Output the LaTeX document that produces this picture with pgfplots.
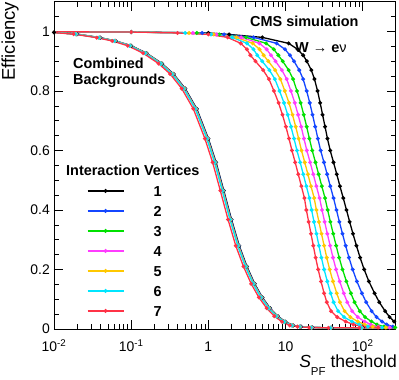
\documentclass[border=0pt]{standalone}
\usepackage{fontspec}
\setmainfont{Liberation Sans}
\usepackage{pgfplots}
\usepackage{pgfplotstable}
\pgfplotsset{compat=1.18}

\definecolor{c1}{RGB}{0,0,0}
\definecolor{c2}{RGB}{20,70,255}
\definecolor{c3}{RGB}{0,225,0}
\definecolor{c4}{RGB}{255,60,255}
\definecolor{c5}{RGB}{255,200,0}
\definecolor{c6}{RGB}{0,230,255}
\definecolor{c7}{RGB}{255,50,70}

% W -> e nu: log10(threshold) per number of vertices, at each efficiency level
\pgfplotstableread{
eff s1 s2 s3 s4 s5 s6 s7
0.999 -2.1 -2.1 -2.1 -2.1 -2.1 -2.1 -2.1
0.998 -1.0 -1.0 -1.0 -1.0 -1.0 -1.0 -1.0
0.995 0.0 -0.08 -0.15 -0.2 -0.25 -0.3 -0.4
0.99 0.27 0.203 0.143 0.105 0.068 0.035 0.0
0.98 0.70 0.588 0.489 0.426 0.363 0.309 0.25
0.96 1.04 0.885 0.749 0.662 0.575 0.501 0.42
0.94 1.157 0.993 0.848 0.756 0.664 0.585 0.50
0.92 1.228 1.057 0.907 0.811 0.716 0.634 0.545
0.90 1.276 1.110 0.963 0.870 0.777 0.697 0.61
0.87 1.334 1.178 1.041 0.953 0.866 0.791 0.71
0.84 1.375 1.228 1.098 1.015 0.933 0.862 0.785
0.80 1.415 1.274 1.149 1.070 0.991 0.923 0.85
0.76 1.449 1.314 1.196 1.120 1.045 0.980 0.91
0.72 1.480 1.350 1.236 1.163 1.090 1.028 0.96
0.68 1.512 1.385 1.274 1.203 1.132 1.071 1.005
0.64 1.543 1.419 1.309 1.239 1.170 1.110 1.045
0.60 1.579 1.455 1.346 1.276 1.207 1.148 1.083
0.56 1.622 1.498 1.388 1.319 1.249 1.190 1.125
0.52 1.664 1.539 1.429 1.360 1.290 1.230 1.165
0.48 1.705 1.580 1.470 1.400 1.330 1.270 1.205
0.44 1.748 1.622 1.512 1.441 1.371 1.310 1.245
0.40 1.790 1.660 1.546 1.473 1.400 1.338 1.270
0.36 1.831 1.698 1.581 1.507 1.433 1.369 1.300
0.32 1.874 1.738 1.618 1.542 1.466 1.401 1.330
0.28 1.919 1.779 1.656 1.578 1.500 1.433 1.360
0.24 1.966 1.822 1.695 1.615 1.534 1.465 1.390
0.20 2.019 1.870 1.739 1.655 1.572 1.500 1.423
0.16 2.080 1.925 1.789 1.702 1.615 1.541 1.460
0.12 2.154 1.990 1.847 1.755 1.664 1.585 1.500
0.09 2.215 2.045 1.895 1.800 1.705 1.623 1.535
0.06 2.291 2.116 1.962 1.863 1.765 1.681 1.590
0.04 2.349 2.179 2.030 1.935 1.840 1.758 1.670
0.025 2.408 2.251 2.113 2.025 1.937 1.862 1.780
0.015 2.455 2.311 2.185 2.104 2.024 1.955 1.880
0.008 2.520 2.390 2.276 2.203 2.130 2.068 2.000
0.005 2.600 2.500 2.420 2.350 2.300 2.250 2.200
0.004 2.750 2.700 2.650 2.600 2.550 2.500 2.500
}\sig

% combined backgrounds
\pgfplotstableread{
b1 b2 b3 b4 b5 b6 b7 eff
-2.0 -2.005 -2.010 -2.012 -2.015 -2.020 -2.045 0.997
-1.7 -1.705 -1.710 -1.712 -1.715 -1.720 -1.745 0.991
-1.4 -1.405 -1.410 -1.412 -1.415 -1.420 -1.445 0.979
-1.2 -1.205 -1.210 -1.212 -1.215 -1.220 -1.245 0.968
-1.0 -1.005 -1.010 -1.012 -1.015 -1.020 -1.045 0.952
-0.8 -0.805 -0.810 -0.812 -0.815 -0.820 -0.845 0.927
-0.6 -0.605 -0.610 -0.612 -0.615 -0.620 -0.645 0.892
-0.45 -0.455 -0.460 -0.462 -0.465 -0.470 -0.495 0.857
-0.3 -0.305 -0.310 -0.312 -0.315 -0.320 -0.345 0.808
-0.15 -0.155 -0.160 -0.162 -0.165 -0.170 -0.195 0.740
0.0 -0.005 -0.010 -0.012 -0.015 -0.020 -0.045 0.640
0.1 0.095 0.090 0.088 0.085 0.080 0.055 0.560
0.2 0.195 0.190 0.188 0.185 0.180 0.155 0.465
0.3 0.295 0.290 0.288 0.285 0.280 0.255 0.368
0.4 0.395 0.390 0.388 0.385 0.380 0.355 0.280
0.5 0.495 0.490 0.488 0.485 0.480 0.455 0.210
0.6 0.595 0.590 0.588 0.585 0.580 0.555 0.152
0.7 0.695 0.690 0.688 0.685 0.680 0.655 0.106
0.8 0.795 0.790 0.788 0.785 0.780 0.755 0.070
0.9 0.895 0.890 0.888 0.885 0.880 0.855 0.043
1.0 0.995 0.990 0.988 0.985 0.980 0.955 0.024
1.1 1.095 1.090 1.088 1.085 1.080 1.055 0.012
1.2 1.195 1.190 1.188 1.185 1.180 1.155 0.008
1.35 1.345 1.340 1.338 1.335 1.330 1.305 0.005
1.6 1.595 1.590 1.588 1.585 1.580 1.555 0.004
2.0 1.995 1.990 1.988 1.985 1.980 1.955 0.004
2.6 2.595 2.590 2.588 2.585 2.580 2.555 0.004
}\bkg

\pgfplotsset{
  curve/.style={#1, line width=1.3bp, mark=*, mark size=1.25bp, mark options={solid, fill=#1}},
}

\begin{document}
\begin{tikzpicture}
\begin{axis}[
  scale only axis, width=341.5bp, height=327.3bp,
  xmode=log, xmin=0.01, xmax=266, ymin=0, ymax=1.1,
  axis line style={line width=0.8bp},
  tick align=inside, xtick pos=both, ytick pos=both,
  major tick length=9bp, minor tick length=5bp,
  every tick/.style={black, line width=0.6bp},
  xtick={0.01,0.1,1,10,100},
  xticklabels={10\textsuperscript{-2},10\textsuperscript{-1},1,10,10\textsuperscript{2}},
  ytick={0,0.2,0.4,0.6,0.8,1},
  yticklabels={0,0.2,0.4,0.6,0.8,1},
  minor ytick={0.05,0.1,...,1.09},
  tick label style={font=\fontsize{14}{16}\selectfont},
  xticklabel style={anchor=base, inner sep=0pt, yshift=-22.7bp},
  yticklabel style={anchor=east, inner sep=0pt, xshift=-4bp},
  ylabel={Efficiency},
  ylabel style={at={(axis description cs:-0.1288,1)}, anchor=east, inner sep=0pt, font=\fontsize{18.5}{20}\selectfont},
  xlabel={\textit{S}\raisebox{-0.45em}{\fontsize{11.5}{12}\selectfont PF} theshold},
  xlabel style={at={(axis description cs:1,0)}, anchor=base east, inner sep=0pt, yshift=-38.5bp, xshift=1.5bp, font=\fontsize{17.6}{19}\selectfont},
  legend image code/.code={\draw[mark repeat=2,mark phase=2,#1] plot coordinates {(0bp,0bp) (18bp,0bp) (36bp,0bp)};},
  legend cell align=left,
  legend style={at={(0.0958,0.4384)}, anchor=north west, draw=none, fill=none, inner sep=0pt,
    row sep=9.6bp, nodes={inner sep=0pt, text height=10.4bp, text depth=0pt},
    font=\bfseries\fontsize{14.5}{16}\selectfont,
    /tikz/every odd column/.append style={column sep=29.5bp}},
]
\addplot[curve=c1] table[x expr={10^(\thisrow{s1})}, y=eff] {\sig};
\addlegendentry{1}
\addplot[curve=c2] table[x expr={10^(\thisrow{s2})}, y=eff] {\sig};
\addlegendentry{2}
\addplot[curve=c3] table[x expr={10^(\thisrow{s3})}, y=eff] {\sig};
\addlegendentry{3}
\addplot[curve=c4] table[x expr={10^(\thisrow{s4})}, y=eff] {\sig};
\addlegendentry{4}
\addplot[curve=c5] table[x expr={10^(\thisrow{s5})}, y=eff] {\sig};
\addlegendentry{5}
\addplot[curve=c6] table[x expr={10^(\thisrow{s6})}, y=eff] {\sig};
\addlegendentry{6}
\addplot[curve=c7] table[x expr={10^(\thisrow{s7})}, y=eff] {\sig};
\addlegendentry{7}

\addplot[curve=c1, forget plot] table[x expr={10^(\thisrow{b1})}, y=eff] {\bkg};
\addplot[curve=c2, forget plot] table[x expr={10^(\thisrow{b2})}, y=eff] {\bkg};
\addplot[curve=c3, forget plot] table[x expr={10^(\thisrow{b3})}, y=eff] {\bkg};
\addplot[curve=c4, forget plot] table[x expr={10^(\thisrow{b4})}, y=eff] {\bkg};
\addplot[curve=c5, forget plot] table[x expr={10^(\thisrow{b5})}, y=eff] {\bkg};
\addplot[curve=c6, forget plot] table[x expr={10^(\thisrow{b6})}, y=eff] {\bkg};
\addplot[curve=c7, forget plot] table[x expr={10^(\thisrow{b7})}, y=eff] {\bkg};

\node[anchor=base west, inner sep=0pt, font=\bfseries\fontsize{14.5}{16}\selectfont] at (rel axis cs:0.574,0.9257) {CMS simulation};
\node[anchor=base west, inner sep=0pt, font=\bfseries\fontsize{14.5}{16}\selectfont] at (rel axis cs:0.7057,0.8454) {W {\mdseries →} e{\mdseries ν}};
\node[anchor=base west, inner sep=0pt, font=\bfseries\fontsize{14.5}{16}\selectfont] at (rel axis cs:0.0556,0.7965) {Combined};
\node[anchor=base west, inner sep=0pt, font=\bfseries\fontsize{14.5}{16}\selectfont] at (rel axis cs:0.0556,0.7455) {Backgrounds};
\node[anchor=base west, inner sep=0pt, font=\bfseries\fontsize{14.5}{16}\selectfont] at (rel axis cs:0.0351,0.4675) {Interaction Vertices};
\end{axis}
\pgfresetboundingbox
\path (current axis.south west) ++(-54bp,-51bp) rectangle ++(399bp,380bp);
\end{tikzpicture}
\end{document}
